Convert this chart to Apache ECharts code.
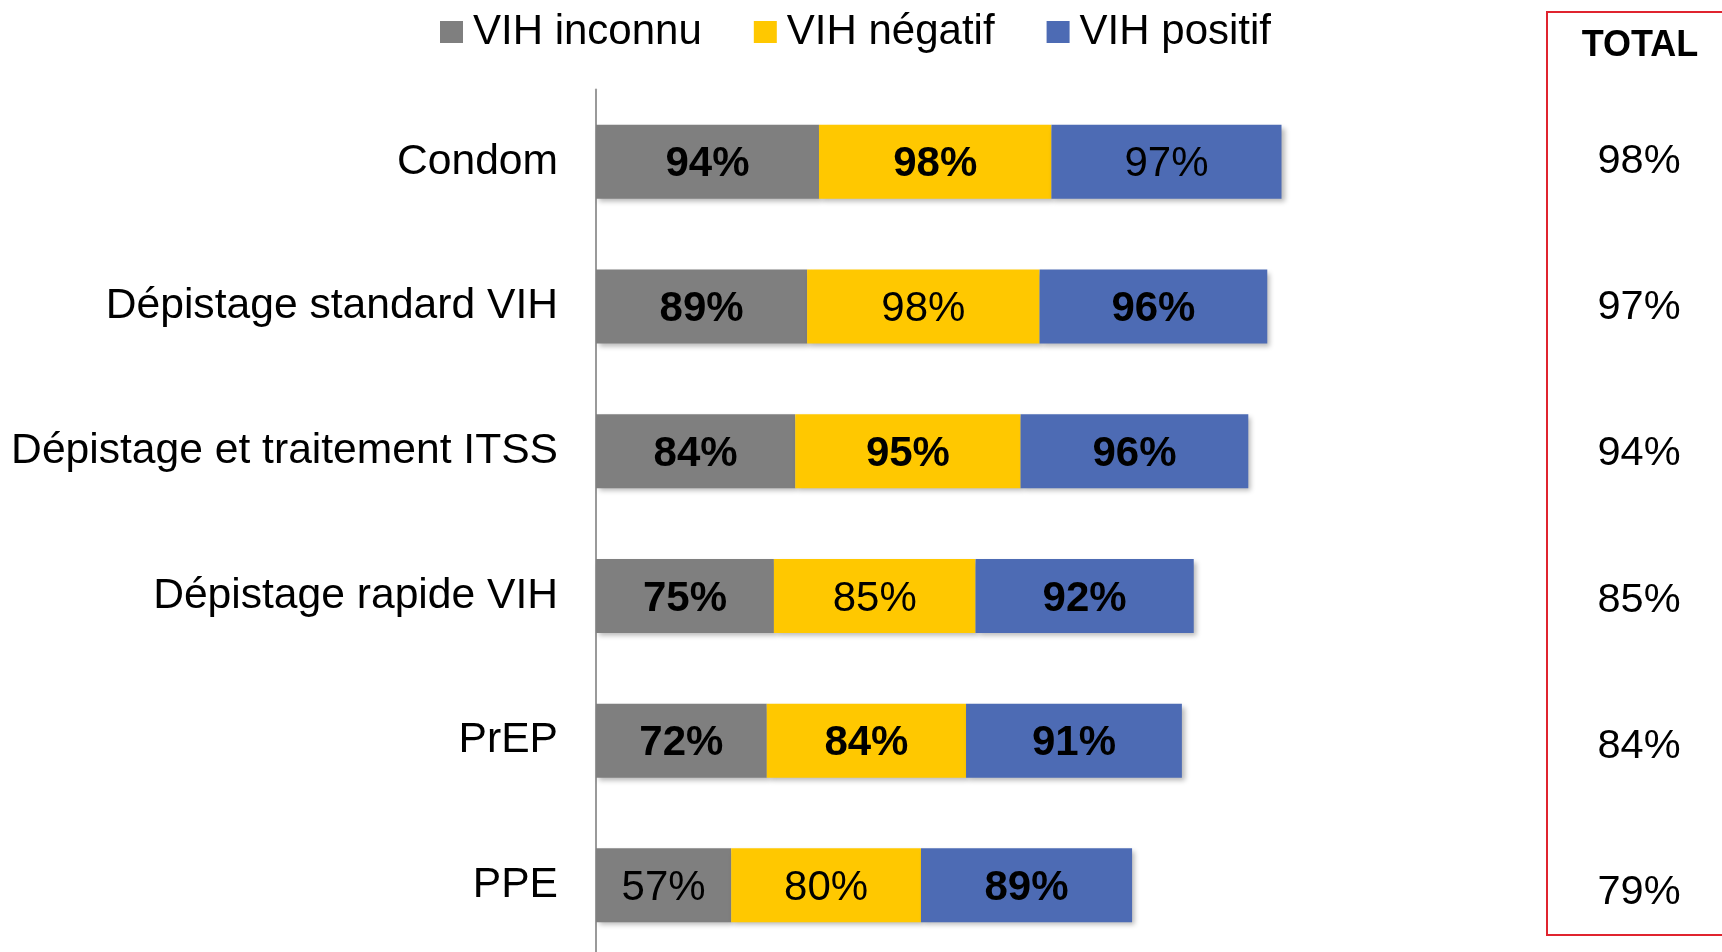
<!DOCTYPE html>
<html><head><meta charset="utf-8">
<script src="https://cdn.jsdelivr.net/npm/echarts@6/dist/echarts.min.js"></script>
<style>html,body{margin:0;padding:0;background:#fff}#c{width:1722px;height:952px}</style>
</head><body><div id="c"></div>
<script>
const categories = ['Condom', 'Dépistage standard VIH', 'Dépistage et traitement ITSS', 'Dépistage rapide VIH', 'PrEP', 'PPE'];
const seriesNames = ['VIH inconnu', 'VIH négatif', 'VIH positif'];
const vihInconnu = [94, 89, 84, 75, 72, 57];
const vihNegatif = [98, 98, 95, 85, 84, 80];
const vihPositif = [97, 96, 96, 92, 91, 89];
const totals = [98, 97, 94, 85, 84, 79];
const totalTitle = 'TOTAL';

// label emphasis (bold) flags, per series, per category
const boldFlags = [
  [1, 1, 1, 1, 1, 0],
  [1, 0, 1, 0, 1, 0],
  [0, 1, 1, 1, 1, 1]
];
const colors = ['#7F7F7F', '#FFC800', '#4D6BB4'];
const FONT = '"Liberation Sans", Arial, sans-serif';

const seriesData = [vihInconnu, vihNegatif, vihPositif];
const series = seriesData.map((arr, si) => ({
  name: seriesNames[si],
  type: 'bar',
  stack: 'all',
  barWidth: 74,
  xAxisIndex: 0, yAxisIndex: 0,
  itemStyle: { color: colors[si], shadowColor: 'rgba(0,0,0,0.28)', shadowBlur: 5, shadowOffsetX: 3, shadowOffsetY: 3 },
  label: { show: true, position: 'inside', offset: [0, 3], color: '#000', fontFamily: FONT, fontSize: 42, formatter: p => p.value + '%' },
  data: arr.map((v, i) => ({ value: v, label: { fontWeight: boldFlags[si][i] ? 'bold' : 'normal' } }))
}));

const chart = echarts.init(document.getElementById('c'), null, { renderer: 'canvas' });
chart.setOption({
  animation: false,
  backgroundColor: '#fff',
  color: colors,
  legend: {
    data: seriesNames, left: 440, top: 11, padding: 0,
    itemWidth: 23, itemHeight: 22, itemGap: 52,
    textStyle: { fontFamily: FONT, fontSize: 42, color: '#000', padding: [0, 0, 0, 5] },
    icon: 'rect'
  },
  grid: [
    { left: 596, top: 89.5, width: 711.6, height: 868.2, containLabel: false, outerBoundsMode: 'none' },
    { left: 1547, top: 88, width: 184, height: 878, containLabel: false, outerBoundsMode: 'none' }
  ],
  xAxis: [
    { type: 'value', gridIndex: 0, min: 0, max: 300, show: false },
    { type: 'value', gridIndex: 1, min: 0, max: 1, show: false }
  ],
  yAxis: [
    {
      type: 'category', gridIndex: 0, data: categories, inverse: true,
      axisLine: { show: true, lineStyle: { color: '#9A9A9A', width: 2 } },
      axisTick: { show: false },
      axisLabel: { margin: 38, color: '#000', fontFamily: FONT, fontSize: 42.6, padding: [3, 0, 0, 0] }
    },
    {
      type: 'category', gridIndex: 1, data: categories, inverse: true,
      axisLine: { show: false }, axisTick: { show: false }, splitLine: { show: false },
      axisLabel: { margin: -92, align: 'center', color: '#000', fontFamily: FONT, fontSize: 41.5, padding: [3, 0, 0, 0],
        formatter: (v, i) => totals[i] + '%' }
    }
  ],
  graphic: [
    { type: 'rect', shape: { x: 1547, y: 12, width: 200, height: 923 },
      style: { fill: 'none', stroke: '#E0242F', lineWidth: 2 }, z: 10 },
    { type: 'text', x: 1640, y: 46, z: 10,
      style: { text: totalTitle, fontFamily: FONT, fontSize: 36, fontWeight: 'bold', fill: '#000', align: 'center', verticalAlign: 'middle' } }
  ],
  series: series
});
</script></body></html>
